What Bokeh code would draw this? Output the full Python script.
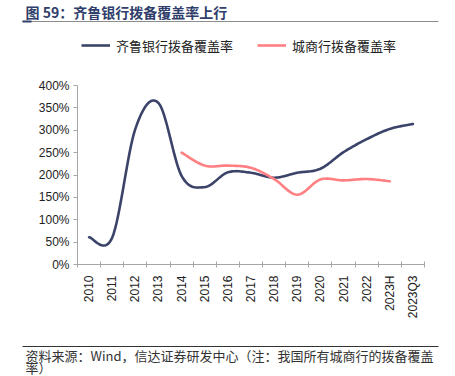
import math
from bokeh.plotting import figure
from bokeh.layouts import column
from bokeh.models import (FixedTicker, Legend, LegendItem, Range1d)
from bokeh.core.properties import value
from bokeh.embed import file_html
from bokeh.resources import INLINE

# ---------------- data ----------------
categories = ["2010", "2011", "2012", "2013", "2014", "2015", "2016", "2017",
              "2018", "2019", "2020", "2021", "2022", "2023H", "2023Q3"]
qilu = [61, 60, 303, 361, 198, 173, 206, 205, 194, 205, 214, 251, 280, 303, 314]
city_cats = ["2014", "2015", "2016", "2017", "2018", "2019", "2020", "2021", "2022", "2023H"]
city = [250, 221, 221, 216, 191, 156, 190, 188, 191, 186]
y_ticks = [0, 50, 100, 150, 200, 250, 300, 350, 400]
y_tick_labels = ["0%", "50%", "100%", "150%", "200%", "250%", "300%", "350%", "400%"]

title_text = "图 59：齐鲁银行拨备覆盖率上行"
legend_names = ["齐鲁银行拨备覆盖率", "城商行拨备覆盖率"]
footer_lines = ["资料来源：Wind，信达证券研发中心（注：我国所有城商行的拨备覆盖", "率）"]

NAVY = "#3B4468"
PINK = "#FF7F82"
AX = "#A6A6A6"
TXT = "#222222"

W = 455
HEAD_H, MAIN_H, FOOT_H = 70, 270, 36


def smooth(xs, ys, n=16):
    """Catmull-Rom rendering of the polyline through the data points."""
    if len(xs) < 3:
        return list(xs), list(ys)
    px = [xs[0]] + list(xs) + [xs[-1]]
    py = [ys[0]] + list(ys) + [ys[-1]]
    ox, oy = [], []
    for i in range(1, len(px) - 2):
        x0, x1, x2, x3 = px[i - 1], px[i], px[i + 1], px[i + 2]
        y0, y1, y2, y3 = py[i - 1], py[i], py[i + 1], py[i + 2]
        for k in range(n):
            t = k / n
            t2, t3 = t * t, t * t * t
            ox.append(0.5 * ((2 * x1) + (-x0 + x2) * t + (2 * x0 - 5 * x1 + 4 * x2 - x3) * t2 + (-x0 + 3 * x1 - 3 * x2 + x3) * t3))
            oy.append(0.5 * ((2 * y1) + (-y0 + y2) * t + (2 * y0 - 5 * y1 + 4 * y2 - y3) * t2 + (-y0 + 3 * y1 - 3 * y2 + y3) * t3))
    ox.append(xs[-1])
    oy.append(ys[-1])
    return ox, oy


def blank(h):
    f = figure(width=W, height=h, output_backend="svg", toolbar_location=None,
               x_range=Range1d(0, W), y_range=Range1d(h, 0),
               x_axis_type=None, y_axis_type=None, frame_align=False,
               min_border=0, min_border_left=0, min_border_right=0,
               min_border_top=0, min_border_bottom=0)
    f.outline_line_color = None
    f.grid.grid_line_color = None
    f.background_fill_color = "white"
    f.border_fill_color = "white"
    return f


# ---------------- header ----------------
head = blank(HEAD_H)
head.text(x=[25], y=[11.5], text=[title_text], text_font=value("Noto Sans CJK SC"),
          text_font_style="bold", text_font_size="14px", text_color="#2F3E6B",
          text_baseline="middle", text_align="left")
head.line(x=[22, 438], y=[21, 21], line_color="#8C8C8C", line_width=1)
head.line(x=[22, 31], y=[21, 21], line_color="#2F3E6B", line_width=2)
# swatch renderers for the legend (their own points lie outside the visible area)
lr1 = head.line(x=[-20, -10], y=[-20, -20], line_color=NAVY, line_width=2.6)
lr2 = head.line(x=[-20, -10], y=[-20, -20], line_color=PINK, line_width=2.6)
legend = Legend(items=[LegendItem(label=legend_names[0], renderers=[lr1]),
                       LegendItem(label=legend_names[1], renderers=[lr2])],
                orientation="horizontal", location=(81, HEAD_H - 55),
                glyph_width=29, glyph_height=20, label_standoff=6, spacing=24,
                padding=0, margin=0, border_line_color=None, background_fill_alpha=0,
                label_text_font="Noto Sans CJK SC", label_text_font_size="13px",
                label_text_color=TXT)
head.add_layout(legend, "center")

# ---------------- main chart ----------------
FL, FR = 77, 424
FT, FB = 85 - HEAD_H, 264 - HEAD_H      # within the main figure
p = figure(width=W, height=MAIN_H, output_backend="svg", toolbar_location=None,
           x_range=Range1d(0, len(categories)), y_range=Range1d(0, 400),
           frame_align=False,
           min_border_left=FL, min_border_right=W - FR,
           min_border_top=FT, min_border_bottom=MAIN_H - FB)
p.outline_line_color = None
p.grid.grid_line_color = None
p.background_fill_color = "white"
p.border_fill_color = "white"

idx = {c: i + 0.5 for i, c in enumerate(categories)}
qx, qy = smooth([idx[c] for c in categories], qilu)
cx, cy = smooth([idx[c] for c in city_cats], city)
p.line(qx, qy, line_color=NAVY, line_width=2.6, line_join="round", line_cap="round")
p.line(cx, cy, line_color=PINK, line_width=2.6, line_join="round", line_cap="round")

ya = p.yaxis[0]
ya.ticker = FixedTicker(ticks=y_ticks)
ya.major_label_overrides = dict(zip(y_ticks, y_tick_labels))
ya.axis_line_color = AX
ya.major_tick_line_color = AX
ya.major_tick_in = 0
ya.major_tick_out = 4
ya.minor_tick_line_color = None
ya.major_label_standoff = 4
ya.major_label_text_font = "Liberation Sans"
ya.major_label_text_font_size = "12px"
ya.major_label_text_color = TXT

xa = p.xaxis[0]
xa.ticker = FixedTicker(ticks=[i + 0.5 for i in range(len(categories))],
                        minor_ticks=list(range(len(categories) + 1)))
xa.major_label_overrides = {i + 0.5: c for i, c in enumerate(categories)}
xa.major_label_orientation = math.pi / 2
xa.axis_line_color = AX
xa.major_tick_line_color = None
xa.major_tick_in = 0
xa.major_tick_out = 0
xa.minor_tick_line_color = AX
xa.minor_tick_in = 3
xa.minor_tick_out = 3
xa.major_label_standoff = 8
xa.major_label_text_font = "Liberation Sans"
xa.major_label_text_font_size = "12px"
xa.major_label_text_color = TXT

# ---------------- footer ----------------
foot = blank(FOOT_H)
y0 = 340
foot.line(x=[22, 438], y=[346 - y0, 346 - y0], line_color="#333333", line_width=1)
foot.text(x=[25, 25], y=[355 - y0, 366.5 - y0], text=footer_lines,
          text_font=value("Noto Sans CJK SC"), text_font_size="13px",
          text_color="#333333", text_baseline="middle", text_align="left")

layout = column(head, p, foot, spacing=0)
open("out.html", "w").write(file_html(layout, INLINE))
